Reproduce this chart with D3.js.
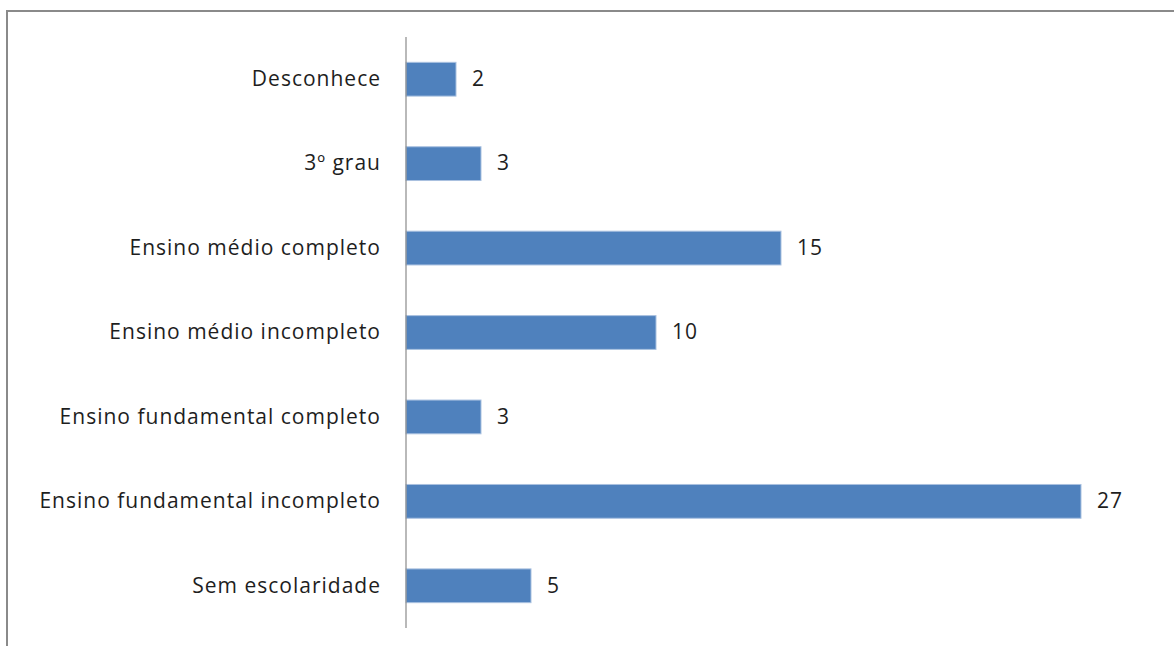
<!DOCTYPE html>
<html>
<head>
<meta charset="utf-8">
<script src="https://cdn.jsdelivr.net/npm/d3@7"></script>
<style>
  body { margin: 0; background: #fff; }
  svg text { font-family: "Open Sans", sans-serif; fill: #1e1e1e; letter-spacing: 1px; }
</style>
</head>
<body>
<div id="chart"></div>
<script>
// categories top to bottom
var categories = ["Desconhece", "3º grau", "Ensino médio completo", "Ensino médio incompleto",
    "Ensino fundamental completo", "Ensino fundamental incompleto", "Sem escolaridade"];
var values = [2, 3, 15, 10, 3, 27, 5];

var W = 1174, H = 646;
var axisX = 406, plotTop = 37, plotBottom = 628;

var svg = d3.select("#chart")
    .append("svg")
    .attr("width", W)
    .attr("height", H);

// outer frame (clipped on right / bottom like the picture)
svg.append("rect")
    .attr("x", 7)
    .attr("y", 11)
    .attr("width", W + 20)
    .attr("height", H + 20)
    .attr("fill", "none")
    .attr("stroke", "#8a8a8a")
    .attr("stroke-width", 2);

var x = d3.scaleLinear()
    .domain([0, 27])
    .range([axisX, axisX + 675]);

var y = d3.scaleBand()
    .domain(categories)
    .range([plotTop, plotBottom])
    .paddingInner(0.6)
    .paddingOuter(0.3);

// bars
svg.selectAll(".bar")
    .data(values)
    .enter()
    .append("rect")
    .attr("class", "bar")
    .attr("x", x(0))
    .attr("y", function (d, i) { return y(categories[i]); })
    .attr("width", function (d) { return x(d) - x(0); })
    .attr("height", y.bandwidth())
    .attr("fill", "#4f81bd")
    .attr("stroke", "#a9c1e0")
    .attr("stroke-width", 1);

// category axis
var yAxis = svg.append("g")
    .attr("transform", "translate(" + axisX + ",0)")
    .call(d3.axisLeft(y).tickSize(0).tickPadding(25));
yAxis.select(".domain")
    .attr("d", "M0," + plotTop + "V" + plotBottom)
    .attr("stroke", "#8a8a8a")
    .attr("stroke-width", 1.2);
yAxis.selectAll("text")
    .style("font-size", "21px")
    .attr("fill", "#1e1e1e")
    .attr("dy", "0.32em");

// value labels
svg.selectAll(".val")
    .data(values)
    .enter()
    .append("text")
    .attr("class", "val")
    .attr("x", function (d) { return x(d) + 16; })
    .attr("y", function (d, i) { return y(categories[i]) + y.bandwidth() / 2; })
    .attr("dy", "0.32em")
    .style("font-size", "21px")
    .text(function (d) { return d; });
</script>
</body>
</html>
